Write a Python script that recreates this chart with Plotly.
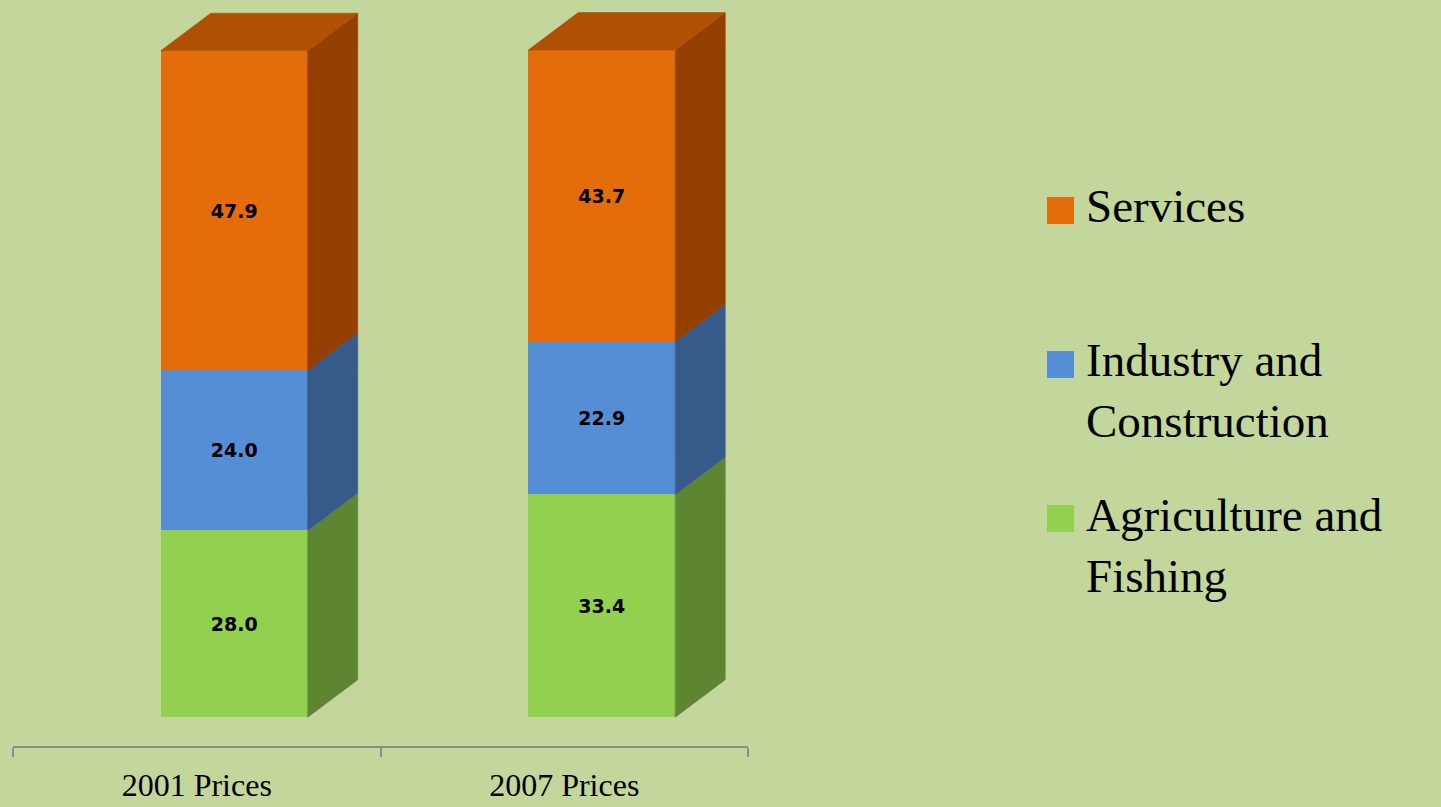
import plotly.graph_objects as go

# ---- data ----
categories = ["2001 Prices", "2007 Prices"]
series_names = ["Agriculture and Fishing", "Industry and Construction", "Services"]
agriculture = [28.0, 33.4]
industry = [24.0, 22.9]
services = [47.9, 43.7]
legend_labels = ["Services", "Industry and<br>Construction", "Agriculture and<br>Fishing"]

# ---- styles ----
BG = "#C3D69B"
front_colors = ["#92D050", "#558ED5", "#E46C0A"]
side_colors = ["#5E8632", "#365A89", "#934002"]
top_color = "#B05004"

BAR_OFFSET = -0.098
BAR_WIDTH = 0.4
DEPTH_X = 0.136
DEPTH_Y = 5.62

# plot area in pixels
L, R_EDGE, T, B_EDGE = 13, 748, 0, 746
W, H = 1441, 807

series_vals = [agriculture, industry, services]

fig = go.Figure()

# front faces
for name, vals, col in zip(series_names, series_vals, front_colors):
    fig.add_trace(go.Bar(
        x=categories, y=vals, name=name,
        offset=BAR_OFFSET, width=BAR_WIDTH,
        marker=dict(color=col, line=dict(width=0)),
        text=[f"{v:.1f}" for v in vals],
        texttemplate="<b>%{text}</b>",
        textposition="inside", insidetextanchor="middle",
        textangle=0,
        textfont=dict(family="DejaVu Sans", size=19, color="black"),
        showlegend=False, hoverinfo="skip",
    ))

# side and top faces (computed from the data)
for i in range(len(categories)):
    xl = i + BAR_OFFSET
    xr = xl + BAR_WIDTH
    base = 0.0
    for vals, scol in zip(series_vals, side_colors):
        z0, z1 = base, base + vals[i]
        fig.add_trace(go.Scatter(
            x=[xr, xr + DEPTH_X, xr + DEPTH_X, xr, xr],
            y=[z0, z0 + DEPTH_Y, z1 + DEPTH_Y, z1, z0],
            xaxis="x2", yaxis="y", mode="lines", fill="toself",
            fillcolor=scol, line=dict(color=scol, width=0.6),
            showlegend=False, hoverinfo="skip",
        ))
        base = z1
    fig.add_trace(go.Scatter(
        x=[xl, xr, xr + DEPTH_X, xl + DEPTH_X, xl],
        y=[base, base, base + DEPTH_Y, base + DEPTH_Y, base],
        xaxis="x2", yaxis="y", mode="lines", fill="toself",
        fillcolor=top_color, line=dict(color=top_color, width=0.6),
        showlegend=False, hoverinfo="skip",
    ))

# legend (custom, large squares)
def pxx(p):
    return (p - L) / (R_EDGE - L)

def pxy(p):
    return (B_EDGE - p) / (B_EDGE - T)

legend_colors = [front_colors[2], front_colors[1], front_colors[0]]
square_tops = [197, 351, 505]
text_tops = [178, 332, 487]
shapes = []
annotations = []
for lab, col, st, tt in zip(legend_labels, legend_colors, square_tops, text_tops):
    shapes.append(dict(type="rect", xref="paper", yref="paper",
                       x0=pxx(1047), x1=pxx(1074), y0=pxy(st + 27), y1=pxy(st),
                       fillcolor=col, line=dict(width=0)))
    annotations.append(dict(text=lab, xref="paper", yref="paper",
                            x=pxx(1084), y=pxy(tt), xanchor="left", yanchor="top",
                            align="left", showarrow=False,
                            font=dict(family="Liberation Serif", size=47, color="black")))

fig.update_layout(
    width=W, height=H, autosize=False,
    margin=dict(l=L, r=W - R_EDGE, t=T, b=H - B_EDGE, pad=0),
    paper_bgcolor=BG, plot_bgcolor=BG,
    barmode="stack", showlegend=False,
    xaxis=dict(type="category", range=[-0.5, 1.5], tickson="boundaries",
               ticks="outside", ticklen=9, tickwidth=2, tickcolor="#8C8C8C",
               showline=True, linecolor="#8C8C8C", linewidth=2,
               showgrid=False, zeroline=False, ticklabelstandoff=10,
               tickfont=dict(family="Liberation Serif", size=32, color="black")),
    xaxis2=dict(overlaying="x", range=[-0.5, 1.5], visible=False, showgrid=False),
    yaxis=dict(range=[-4.3, 107.5], visible=False, showgrid=False, zeroline=False),
    shapes=shapes, annotations=annotations,
)

fig.write_html("out.html", config={"displayModeBar": False},
               post_script="document.body.style.margin='0';document.body.style.padding='0';")
